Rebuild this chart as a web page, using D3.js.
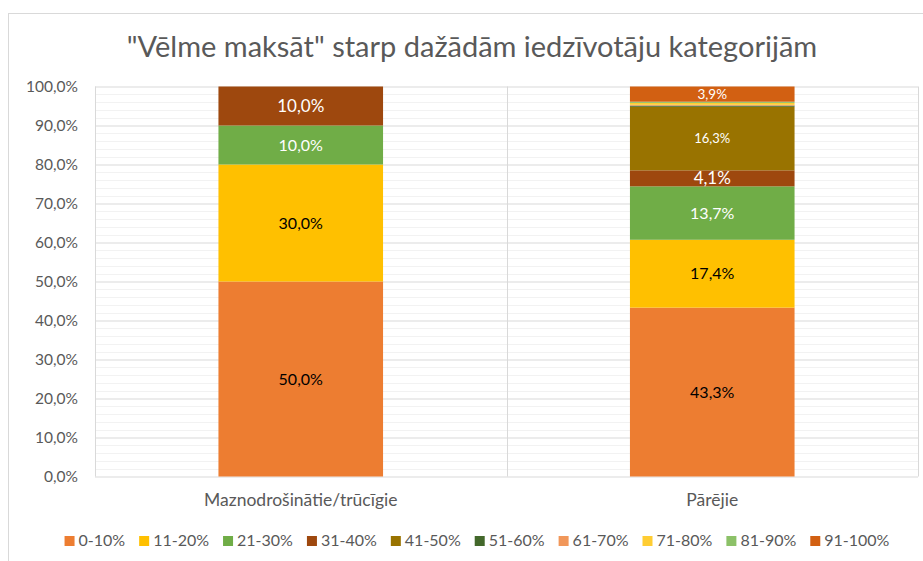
<!DOCTYPE html>
<html>
<head>
<meta charset="utf-8">
<script src="https://cdn.jsdelivr.net/npm/d3@7"></script>
<style>
  body { margin: 0; background: #fff; }
  svg { display: block; font-family: Lato, "Open Sans", sans-serif; }
</style>
</head>
<body>
<svg id="chart"></svg>
<script>
// data
const categories = ["Maznodrošinātie/trūcīgie", "Pārējie"];
const groups = ["0-10%", "11-20%", "21-30%", "31-40%", "41-50%", "51-60%", "61-70%", "71-80%", "81-90%", "91-100%"];
const valuesPoor = [50.0, 30.0, 10.0, 10.0, 0, 0, 0, 0, 0, 0];
const valuesOther = [43.3, 17.4, 13.7, 4.1, 16.3, 0.3, 0.2, 0.5, 0.3, 3.9];
const colors = ["#ED7D31", "#FFC000", "#70AD47", "#9E480E", "#997300", "#43682B", "#F1975A", "#FFCD33", "#8CC168", "#D26012"];
const yTicks = [0, 10, 20, 30, 40, 50, 60, 70, 80, 90, 100];
const title = "\"Vēlme maksāt\" starp dažādām iedzīvotāju kategorijām";

const width = 923, height = 561;
const margin = { top: 86.5, right: 5, bottom: 84.5, left: 95 };
const svg = d3.select("#chart").attr("width", width).attr("height", height);

const fmt = v => d3.format(".1f")(v).replace(".", ",") + "%";

// build table for stacking
const table = categories.map((c, i) => {
  const row = { cat: c };
  const vals = i === 0 ? valuesPoor : valuesOther;
  groups.forEach((g, j) => row[g] = vals[j]);
  return row;
});
const color = d3.scaleOrdinal().domain(groups).range(colors);
const stack = d3.stack().keys(groups)(table);

const scaleX = d3.scaleBand()
  .domain(categories)
  .range([margin.left, width - margin.right])
  .paddingInner(0.6).paddingOuter(0.3);
const scaleY = d3.scaleLinear()
  .domain([0, 100])
  .range([height - margin.bottom, margin.top]);

// chart border
svg.append("rect")
  .attr("x", 8.5).attr("y", 13.5)
  .attr("width", 1000).attr("height", 1000)
  .attr("fill", "none").attr("stroke", "#d9d9d9");

// title
svg.append("text")
  .attr("x", 472).attr("y", 57)
  .attr("text-anchor", "middle")
  .attr("fill", "#595959")
  .style("font-size", "29px")
  .text(title);

// minor gridlines every 2%
svg.append("g")
  .selectAll("line")
  .data(d3.range(2, 100, 2).filter(v => v % 10 !== 0))
  .join("line")
  .attr("x1", margin.left).attr("x2", width - margin.right)
  .attr("y1", d => Math.round(scaleY(d)) + 0.5).attr("y2", d => Math.round(scaleY(d)) + 0.5)
  .attr("stroke", "#f2f2f2");

// major gridlines + y axis labels
svg.append("g")
  .attr("transform", `translate(${margin.left},0)`)
  .call(d3.axisLeft(scaleY).tickValues(yTicks).tickFormat(fmt).tickSize(0).tickPadding(17))
  .call(g => g.select(".domain").remove())
  .call(g => g.selectAll(".tick text").attr("fill", "#595959").style("font-size", "15.5px").style("font-family", "Lato, sans-serif"))
  .call(g => g.selectAll(".tick line").clone()
    .attr("stroke", "#d9d9d9")
    .attr("x2", width - margin.left - margin.right));

// vertical category gridlines
const step = (width - margin.left - margin.right) / categories.length;
svg.append("g")
  .selectAll("line")
  .data(d3.range(categories.length + 1))
  .join("line")
  .attr("x1", d => Math.round(margin.left + d * step) + 0.5)
  .attr("x2", d => Math.round(margin.left + d * step) + 0.5)
  .attr("y1", margin.top).attr("y2", height - margin.bottom)
  .attr("stroke", "#d9d9d9");

// bars
const series = svg.append("g")
  .selectAll("g")
  .data(stack)
  .join("g")
  .attr("fill", d => color(d.key));

series.selectAll("rect")
  .data(d => d.map(p => ({ key: d.key, p })))
  .join("rect")
  .attr("x", d => scaleX(d.p.data.cat))
  .attr("width", scaleX.bandwidth())
  .attr("y", d => scaleY(d.p[1]))
  .attr("height", d => scaleY(d.p[0]) - scaleY(d.p[1]));

// value labels
const labelSize = { "41-50%": "13px", "91-100%": "13.5px", "31-40%": "17px" };
const darkLabels = ["0-10%", "11-20%"];
series.selectAll("text")
  .data(d => d.map(p => ({ key: d.key, p })).filter(d => d.p[1] - d.p[0] >= 1))
  .join("text")
  .attr("x", d => scaleX(d.p.data.cat) + scaleX.bandwidth() / 2)
  .attr("y", d => scaleY((d.p[0] + d.p[1]) / 2))
  .attr("dy", "0.36em")
  .attr("text-anchor", "middle")
  .attr("fill", d => darkLabels.includes(d.key) ? "#000" : "#fff")
  .style("font-size", d => labelSize[d.key] || "16px")
  .text(d => fmt(d.p[1] - d.p[0]));

// x axis labels
svg.append("g")
  .selectAll("text")
  .data(categories)
  .join("text")
  .attr("x", d => scaleX(d) + scaleX.bandwidth() / 2)
  .attr("y", 506)
  .attr("text-anchor", "middle")
  .attr("fill", "#595959")
  .style("font-size", "17.5px")
  .text(d => d);

// legend
const legend = svg.append("g").style("font-size", "16px");
const items = legend.selectAll("g").data(groups).join("g");
items.append("rect").attr("width", 10).attr("height", 10).attr("y", -10).attr("fill", d => color(d));
items.append("text").attr("x", 14).attr("fill", "#595959").text(d => d);
let lx = 0;
items.each(function () {
  const w = this.querySelector("text").getComputedTextLength();
  d3.select(this).attr("transform", `translate(${lx},0)`);
  lx += 14 + w + 14;
});
const totalW = lx - 14;
legend.attr("transform", `translate(${477 - totalW / 2},546)`);
</script>
</body>
</html>
